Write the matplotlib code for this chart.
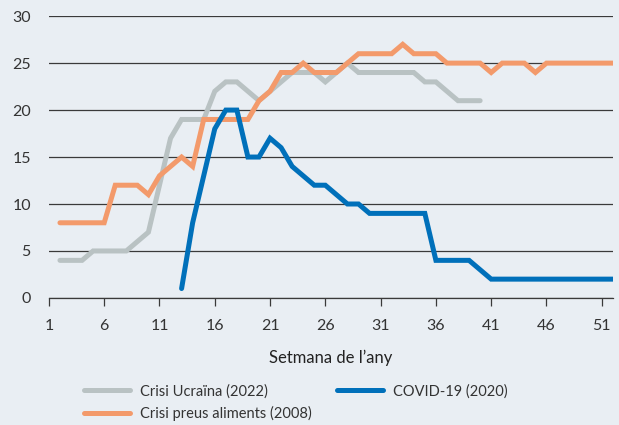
import matplotlib.pyplot as plt

plt.rcParams['font.family'] = ['Lato', 'DejaVu Sans']

setmanes_ucraina = list(range(2, 41))
ucraina = [4, 4, 4, 5, 5, 5, 5, 6, 7, 12, 17, 19, 19, 19, 22, 23, 23, 22, 21,
           22, 23, 24, 24, 24, 23, 24, 25, 24, 24, 24, 24, 24, 24, 23, 23, 22,
           21, 21, 21]

setmanes_covid = list(range(13, 53))
covid = [1, 8, 13, 18, 20, 20, 15, 15, 17, 16, 14, 13, 12, 12, 11, 10, 10, 9,
         9, 9, 9, 9, 9, 4, 4, 4, 4, 3, 2, 2, 2, 2, 2, 2, 2, 2, 2, 2, 2, 2]

setmanes_2008 = list(range(2, 53))
aliments = [8, 8, 8, 8, 8, 12, 12, 12, 11, 13, 14, 15, 14, 19, 19, 19, 19, 19,
            21, 22, 24, 24, 25, 24, 24, 24, 25, 26, 26, 26, 26, 27, 26, 26, 26,
            25, 25, 25, 25, 24, 25, 25, 25, 24, 25, 25, 25, 25, 25, 25, 25]

xticks = [1, 6, 11, 16, 21, 26, 31, 36, 41, 46, 51]
yticks = [0, 5, 10, 15, 20, 25, 30]

bg = '#E9EEF3'
txt = '#333333'

fig = plt.figure(figsize=(6.19, 4.25), dpi=100, facecolor=bg)
ax = fig.add_axes([0.079, 0.299, 0.911, 0.663])
ax.set_facecolor(bg)

lw = 3.6
l1, = ax.plot(setmanes_ucraina, ucraina, color='#B9C2C3', lw=lw,
              solid_capstyle='round', solid_joinstyle='miter', label='Crisi Ucraïna (2022)')
l2, = ax.plot(setmanes_2008, aliments, color='#F39A6B', lw=lw,
              solid_capstyle='round', solid_joinstyle='miter', label='Crisi preus aliments (2008)')
l3, = ax.plot(setmanes_covid, covid, color='#0070BA', lw=lw,
              solid_capstyle='round', solid_joinstyle='miter', label='COVID-19 (2020)')
l1.set_zorder(1.8)
l2.set_zorder(1.85)
l3.set_zorder(1.9)

ax.set_xlim(1, 52)
ax.set_ylim(0, 30)
ax.set_xticks(xticks)
ax.set_yticks(yticks)
ax.yaxis.grid(True, color='#3a3a3a', lw=0.9)
ax.set_axisbelow(True)
for s in ['left', 'right', 'top']:
    ax.spines[s].set_visible(False)
ax.spines['bottom'].set_color('#3a3a3a')
ax.spines['bottom'].set_linewidth(0.9)
ax.tick_params(axis='y', length=0, pad=13, labelsize=11.5, labelcolor=txt)
ax.tick_params(axis='x', length=6, width=0.9, color='#3a3a3a', pad=9,
               labelsize=11.5, labelcolor=txt)

ax.set_xlabel("Setmana de l\u2019any", fontsize=12, color='#222222', labelpad=12)

fig.legend(handles=[l1, l2, l3], loc='upper left',
           bbox_to_anchor=(84 / 619, 1 - 384 / 425),
           ncol=2, frameon=False, fontsize=10.5, labelcolor=txt,
           borderpad=0, borderaxespad=0,
           handlelength=3.15, columnspacing=1.7, handletextpad=0.7,
           labelspacing=0.55)

fig.savefig('out.png', dpi=100, facecolor=bg)
